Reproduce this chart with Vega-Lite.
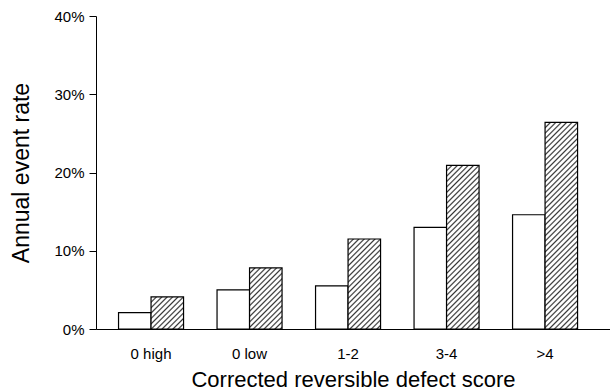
{
  "$schema": "https://vega.github.io/schema/vega-lite/v6.json",
  "width": 514,
  "height": 313,
  "autosize": {"type": "none"},
  "padding": {"left": 96, "top": 16, "right": 0, "bottom": 63},
  "background": "white",
  "config": {"view": {"stroke": null}, "font": "Liberation Sans"},
  "data": {
    "values": [
      {"score": "0 high", "series": "open", "rate": 2.1},
      {"score": "0 high", "series": "hatched", "rate": 4.1},
      {"score": "0 low", "series": "open", "rate": 5.0},
      {"score": "0 low", "series": "hatched", "rate": 7.8},
      {"score": "1-2", "series": "open", "rate": 5.5},
      {"score": "1-2", "series": "hatched", "rate": 11.5},
      {"score": "3-4", "series": "open", "rate": 13.0},
      {"score": "3-4", "series": "hatched", "rate": 20.9},
      {"score": ">4", "series": "open", "rate": 14.6},
      {"score": ">4", "series": "hatched", "rate": 26.4}
    ]
  },
  "encoding": {
    "x": {
      "field": "score", "type": "nominal",
      "scale": {"domain": ["0 high", "0 low", "1-2", "3-4", ">4"], "paddingInner": 0.34, "paddingOuter": 0.279, "align": 0.41},
      "axis": {"title": "Corrected reversible defect score", "labelAngle": 0, "ticks": false, "tickSize": 0, "domainColor": "#000", "domainWidth": 1.2, "labelFontSize": 15, "labelColor": "#000", "labelPadding": 17, "titleFontSize": 22, "titleFontWeight": "normal", "titleColor": "#000", "titlePadding": 8}
    },
    "xOffset": {"field": "series", "type": "nominal", "scale": {"domain": ["open", "hatched"], "paddingInner": 0, "paddingOuter": 0}},
    "y": {
      "field": "rate", "type": "quantitative",
      "scale": {"domain": [0, 40], "nice": false},
      "axis": {"title": "Annual event rate", "values": [0, 10, 20, 30, 40], "labelExpr": "datum.value + '%'", "grid": false, "tickSize": 7, "tickColor": "#000", "domainColor": "#000", "labelFontSize": 15, "labelPadding": 5, "labelColor": "#000", "titleFontSize": 23, "titleFontWeight": "normal", "titleColor": "#000", "titlePadding": 20}
    }
  },
  "layer": [
    {
      "transform": [{"filter": "datum.series == 'open'"}],
      "mark": {"type": "bar", "fill": "#fff", "stroke": "#000", "strokeWidth": 1.2}
    },
    {
      "transform": [{"filter": "datum.series == 'hatched' && datum.score == '0 high'"}],
      "mark": {"type": "bar", "stroke": "#000", "strokeWidth": 1.2, "fill": {"gradient": "linear", "x1": 0, "y1": 0, "x2": 4.2052, "y2": 4.1535, "stops": [
        {"offset":0,"color":"#333"},{"offset":0.006,"color":"#fff"},{"offset":0.014,"color":"#fff"},
        {"offset":0.02,"color":"#333"},{"offset":0.026,"color":"#fff"},{"offset":0.034,"color":"#fff"},
        {"offset":0.04,"color":"#333"},{"offset":0.046,"color":"#fff"},{"offset":0.054,"color":"#fff"},
        {"offset":0.06,"color":"#333"},{"offset":0.066,"color":"#fff"},{"offset":0.074,"color":"#fff"},
        {"offset":0.08,"color":"#333"},{"offset":0.086,"color":"#fff"},{"offset":0.094,"color":"#fff"},
        {"offset":0.1,"color":"#333"},{"offset":0.106,"color":"#fff"},{"offset":0.114,"color":"#fff"},
        {"offset":0.12,"color":"#333"},{"offset":0.126,"color":"#fff"},{"offset":0.134,"color":"#fff"},
        {"offset":0.14,"color":"#333"},{"offset":0.146,"color":"#fff"},{"offset":0.154,"color":"#fff"},
        {"offset":0.16,"color":"#333"},{"offset":0.166,"color":"#fff"},{"offset":0.174,"color":"#fff"},
        {"offset":0.18,"color":"#333"},{"offset":0.186,"color":"#fff"},{"offset":0.194,"color":"#fff"},
        {"offset":0.2,"color":"#333"},{"offset":0.206,"color":"#fff"},{"offset":0.214,"color":"#fff"},
        {"offset":0.22,"color":"#333"},{"offset":0.226,"color":"#fff"},{"offset":0.234,"color":"#fff"},
        {"offset":0.24,"color":"#333"},{"offset":0.246,"color":"#fff"},{"offset":0.254,"color":"#fff"}
      ]}}
    },
    {
      "transform": [{"filter": "datum.series == 'hatched' && datum.score == '0 low'"}],
      "mark": {"type": "bar", "stroke": "#000", "strokeWidth": 1.2, "fill": {"gradient": "linear", "x1": 0, "y1": 0, "x2": 1.8368, "y2": 3.4476, "stops": [
        {"offset":0,"color":"#333"},{"offset":0.006,"color":"#fff"},{"offset":0.014,"color":"#fff"},
        {"offset":0.02,"color":"#333"},{"offset":0.026,"color":"#fff"},{"offset":0.034,"color":"#fff"},
        {"offset":0.04,"color":"#333"},{"offset":0.046,"color":"#fff"},{"offset":0.054,"color":"#fff"},
        {"offset":0.06,"color":"#333"},{"offset":0.066,"color":"#fff"},{"offset":0.074,"color":"#fff"},
        {"offset":0.08,"color":"#333"},{"offset":0.086,"color":"#fff"},{"offset":0.094,"color":"#fff"},
        {"offset":0.1,"color":"#333"},{"offset":0.106,"color":"#fff"},{"offset":0.114,"color":"#fff"},
        {"offset":0.12,"color":"#333"},{"offset":0.126,"color":"#fff"},{"offset":0.134,"color":"#fff"},
        {"offset":0.14,"color":"#333"},{"offset":0.146,"color":"#fff"},{"offset":0.154,"color":"#fff"},
        {"offset":0.16,"color":"#333"},{"offset":0.166,"color":"#fff"},{"offset":0.174,"color":"#fff"},
        {"offset":0.18,"color":"#333"},{"offset":0.186,"color":"#fff"},{"offset":0.194,"color":"#fff"},
        {"offset":0.2,"color":"#333"},{"offset":0.206,"color":"#fff"},{"offset":0.214,"color":"#fff"},
        {"offset":0.22,"color":"#333"},{"offset":0.226,"color":"#fff"},{"offset":0.234,"color":"#fff"},
        {"offset":0.24,"color":"#333"},{"offset":0.246,"color":"#fff"},{"offset":0.254,"color":"#fff"},
        {"offset":0.26,"color":"#333"},{"offset":0.266,"color":"#fff"},{"offset":0.274,"color":"#fff"},
        {"offset":0.28,"color":"#333"},{"offset":0.286,"color":"#fff"},{"offset":0.294,"color":"#fff"},
        {"offset":0.3,"color":"#333"},{"offset":0.306,"color":"#fff"},{"offset":0.314,"color":"#fff"},
        {"offset":0.32,"color":"#333"},{"offset":0.326,"color":"#fff"},{"offset":0.334,"color":"#fff"},
        {"offset":0.34,"color":"#333"},{"offset":0.346,"color":"#fff"},{"offset":0.354,"color":"#fff"}
      ]}}
    },
    {
      "transform": [{"filter": "datum.series == 'hatched' && datum.score == '1-2'"}],
      "mark": {"type": "bar", "stroke": "#000", "strokeWidth": 1.2, "fill": {"gradient": "linear", "x1": 0, "y1": 0, "x2": 0.95836, "y2": 2.6539, "stops": [
        {"offset":0,"color":"#333"},{"offset":0.006,"color":"#fff"},{"offset":0.014,"color":"#fff"},
        {"offset":0.02,"color":"#333"},{"offset":0.026,"color":"#fff"},{"offset":0.034,"color":"#fff"},
        {"offset":0.04,"color":"#333"},{"offset":0.046,"color":"#fff"},{"offset":0.054,"color":"#fff"},
        {"offset":0.06,"color":"#333"},{"offset":0.066,"color":"#fff"},{"offset":0.074,"color":"#fff"},
        {"offset":0.08,"color":"#333"},{"offset":0.086,"color":"#fff"},{"offset":0.094,"color":"#fff"},
        {"offset":0.1,"color":"#333"},{"offset":0.106,"color":"#fff"},{"offset":0.114,"color":"#fff"},
        {"offset":0.12,"color":"#333"},{"offset":0.126,"color":"#fff"},{"offset":0.134,"color":"#fff"},
        {"offset":0.14,"color":"#333"},{"offset":0.146,"color":"#fff"},{"offset":0.154,"color":"#fff"},
        {"offset":0.16,"color":"#333"},{"offset":0.166,"color":"#fff"},{"offset":0.174,"color":"#fff"},
        {"offset":0.18,"color":"#333"},{"offset":0.186,"color":"#fff"},{"offset":0.194,"color":"#fff"},
        {"offset":0.2,"color":"#333"},{"offset":0.206,"color":"#fff"},{"offset":0.214,"color":"#fff"},
        {"offset":0.22,"color":"#333"},{"offset":0.226,"color":"#fff"},{"offset":0.234,"color":"#fff"},
        {"offset":0.24,"color":"#333"},{"offset":0.246,"color":"#fff"},{"offset":0.254,"color":"#fff"},
        {"offset":0.26,"color":"#333"},{"offset":0.266,"color":"#fff"},{"offset":0.274,"color":"#fff"},
        {"offset":0.28,"color":"#333"},{"offset":0.286,"color":"#fff"},{"offset":0.294,"color":"#fff"},
        {"offset":0.3,"color":"#333"},{"offset":0.306,"color":"#fff"},{"offset":0.314,"color":"#fff"},
        {"offset":0.32,"color":"#333"},{"offset":0.326,"color":"#fff"},{"offset":0.334,"color":"#fff"},
        {"offset":0.34,"color":"#333"},{"offset":0.346,"color":"#fff"},{"offset":0.354,"color":"#fff"},
        {"offset":0.36,"color":"#333"},{"offset":0.366,"color":"#fff"},{"offset":0.374,"color":"#fff"},
        {"offset":0.38,"color":"#333"},{"offset":0.386,"color":"#fff"},{"offset":0.394,"color":"#fff"},
        {"offset":0.4,"color":"#333"},{"offset":0.406,"color":"#fff"},{"offset":0.414,"color":"#fff"},
        {"offset":0.42,"color":"#333"},{"offset":0.426,"color":"#fff"},{"offset":0.434,"color":"#fff"},
        {"offset":0.44,"color":"#333"},{"offset":0.446,"color":"#fff"},{"offset":0.454,"color":"#fff"},
        {"offset":0.46,"color":"#333"},{"offset":0.466,"color":"#fff"},{"offset":0.474,"color":"#fff"}
      ]}}
    },
    {
      "transform": [{"filter": "datum.series == 'hatched' && datum.score == '3-4'"}],
      "mark": {"type": "bar", "stroke": "#000", "strokeWidth": 1.2, "fill": {"gradient": "linear", "x1": 0, "y1": 0, "x2": 0.31578, "y2": 1.5886, "stops": [
        {"offset":0,"color":"#333"},{"offset":0.006,"color":"#fff"},{"offset":0.014,"color":"#fff"},
        {"offset":0.02,"color":"#333"},{"offset":0.026,"color":"#fff"},{"offset":0.034,"color":"#fff"},
        {"offset":0.04,"color":"#333"},{"offset":0.046,"color":"#fff"},{"offset":0.054,"color":"#fff"},
        {"offset":0.06,"color":"#333"},{"offset":0.066,"color":"#fff"},{"offset":0.074,"color":"#fff"},
        {"offset":0.08,"color":"#333"},{"offset":0.086,"color":"#fff"},{"offset":0.094,"color":"#fff"},
        {"offset":0.1,"color":"#333"},{"offset":0.106,"color":"#fff"},{"offset":0.114,"color":"#fff"},
        {"offset":0.12,"color":"#333"},{"offset":0.126,"color":"#fff"},{"offset":0.134,"color":"#fff"},
        {"offset":0.14,"color":"#333"},{"offset":0.146,"color":"#fff"},{"offset":0.154,"color":"#fff"},
        {"offset":0.16,"color":"#333"},{"offset":0.166,"color":"#fff"},{"offset":0.174,"color":"#fff"},
        {"offset":0.18,"color":"#333"},{"offset":0.186,"color":"#fff"},{"offset":0.194,"color":"#fff"},
        {"offset":0.2,"color":"#333"},{"offset":0.206,"color":"#fff"},{"offset":0.214,"color":"#fff"},
        {"offset":0.22,"color":"#333"},{"offset":0.226,"color":"#fff"},{"offset":0.234,"color":"#fff"},
        {"offset":0.24,"color":"#333"},{"offset":0.246,"color":"#fff"},{"offset":0.254,"color":"#fff"},
        {"offset":0.26,"color":"#333"},{"offset":0.266,"color":"#fff"},{"offset":0.274,"color":"#fff"},
        {"offset":0.28,"color":"#333"},{"offset":0.286,"color":"#fff"},{"offset":0.294,"color":"#fff"},
        {"offset":0.3,"color":"#333"},{"offset":0.306,"color":"#fff"},{"offset":0.314,"color":"#fff"},
        {"offset":0.32,"color":"#333"},{"offset":0.326,"color":"#fff"},{"offset":0.334,"color":"#fff"},
        {"offset":0.34,"color":"#333"},{"offset":0.346,"color":"#fff"},{"offset":0.354,"color":"#fff"},
        {"offset":0.36,"color":"#333"},{"offset":0.366,"color":"#fff"},{"offset":0.374,"color":"#fff"},
        {"offset":0.38,"color":"#333"},{"offset":0.386,"color":"#fff"},{"offset":0.394,"color":"#fff"},
        {"offset":0.4,"color":"#333"},{"offset":0.406,"color":"#fff"},{"offset":0.414,"color":"#fff"},
        {"offset":0.42,"color":"#333"},{"offset":0.426,"color":"#fff"},{"offset":0.434,"color":"#fff"},
        {"offset":0.44,"color":"#333"},{"offset":0.446,"color":"#fff"},{"offset":0.454,"color":"#fff"},
        {"offset":0.46,"color":"#333"},{"offset":0.466,"color":"#fff"},{"offset":0.474,"color":"#fff"},
        {"offset":0.48,"color":"#333"},{"offset":0.486,"color":"#fff"},{"offset":0.494,"color":"#fff"},
        {"offset":0.5,"color":"#333"},{"offset":0.506,"color":"#fff"},{"offset":0.514,"color":"#fff"},
        {"offset":0.52,"color":"#333"},{"offset":0.526,"color":"#fff"},{"offset":0.534,"color":"#fff"},
        {"offset":0.54,"color":"#333"},{"offset":0.546,"color":"#fff"},{"offset":0.554,"color":"#fff"},
        {"offset":0.56,"color":"#333"},{"offset":0.566,"color":"#fff"},{"offset":0.574,"color":"#fff"},
        {"offset":0.58,"color":"#333"},{"offset":0.586,"color":"#fff"},{"offset":0.594,"color":"#fff"},
        {"offset":0.6,"color":"#333"},{"offset":0.606,"color":"#fff"},{"offset":0.614,"color":"#fff"},
        {"offset":0.62,"color":"#333"},{"offset":0.626,"color":"#fff"},{"offset":0.634,"color":"#fff"},
        {"offset":0.64,"color":"#333"},{"offset":0.646,"color":"#fff"},{"offset":0.654,"color":"#fff"},
        {"offset":0.66,"color":"#333"},{"offset":0.666,"color":"#fff"},{"offset":0.674,"color":"#fff"},
        {"offset":0.68,"color":"#333"},{"offset":0.686,"color":"#fff"},{"offset":0.694,"color":"#fff"},
        {"offset":0.7,"color":"#333"},{"offset":0.706,"color":"#fff"},{"offset":0.714,"color":"#fff"},
        {"offset":0.72,"color":"#333"},{"offset":0.726,"color":"#fff"},{"offset":0.734,"color":"#fff"}
      ]}}
    },
    {
      "transform": [{"filter": "datum.series == 'hatched' && datum.score == '>4'"}],
      "mark": {"type": "bar", "stroke": "#000", "strokeWidth": 1.2, "fill": {"gradient": "linear", "x1": 0, "y1": 0, "x2": 0.20062, "y2": 1.2753, "stops": [
        {"offset":0,"color":"#333"},{"offset":0.006,"color":"#fff"},{"offset":0.014,"color":"#fff"},
        {"offset":0.02,"color":"#333"},{"offset":0.026,"color":"#fff"},{"offset":0.034,"color":"#fff"},
        {"offset":0.04,"color":"#333"},{"offset":0.046,"color":"#fff"},{"offset":0.054,"color":"#fff"},
        {"offset":0.06,"color":"#333"},{"offset":0.066,"color":"#fff"},{"offset":0.074,"color":"#fff"},
        {"offset":0.08,"color":"#333"},{"offset":0.086,"color":"#fff"},{"offset":0.094,"color":"#fff"},
        {"offset":0.1,"color":"#333"},{"offset":0.106,"color":"#fff"},{"offset":0.114,"color":"#fff"},
        {"offset":0.12,"color":"#333"},{"offset":0.126,"color":"#fff"},{"offset":0.134,"color":"#fff"},
        {"offset":0.14,"color":"#333"},{"offset":0.146,"color":"#fff"},{"offset":0.154,"color":"#fff"},
        {"offset":0.16,"color":"#333"},{"offset":0.166,"color":"#fff"},{"offset":0.174,"color":"#fff"},
        {"offset":0.18,"color":"#333"},{"offset":0.186,"color":"#fff"},{"offset":0.194,"color":"#fff"},
        {"offset":0.2,"color":"#333"},{"offset":0.206,"color":"#fff"},{"offset":0.214,"color":"#fff"},
        {"offset":0.22,"color":"#333"},{"offset":0.226,"color":"#fff"},{"offset":0.234,"color":"#fff"},
        {"offset":0.24,"color":"#333"},{"offset":0.246,"color":"#fff"},{"offset":0.254,"color":"#fff"},
        {"offset":0.26,"color":"#333"},{"offset":0.266,"color":"#fff"},{"offset":0.274,"color":"#fff"},
        {"offset":0.28,"color":"#333"},{"offset":0.286,"color":"#fff"},{"offset":0.294,"color":"#fff"},
        {"offset":0.3,"color":"#333"},{"offset":0.306,"color":"#fff"},{"offset":0.314,"color":"#fff"},
        {"offset":0.32,"color":"#333"},{"offset":0.326,"color":"#fff"},{"offset":0.334,"color":"#fff"},
        {"offset":0.34,"color":"#333"},{"offset":0.346,"color":"#fff"},{"offset":0.354,"color":"#fff"},
        {"offset":0.36,"color":"#333"},{"offset":0.366,"color":"#fff"},{"offset":0.374,"color":"#fff"},
        {"offset":0.38,"color":"#333"},{"offset":0.386,"color":"#fff"},{"offset":0.394,"color":"#fff"},
        {"offset":0.4,"color":"#333"},{"offset":0.406,"color":"#fff"},{"offset":0.414,"color":"#fff"},
        {"offset":0.42,"color":"#333"},{"offset":0.426,"color":"#fff"},{"offset":0.434,"color":"#fff"},
        {"offset":0.44,"color":"#333"},{"offset":0.446,"color":"#fff"},{"offset":0.454,"color":"#fff"},
        {"offset":0.46,"color":"#333"},{"offset":0.466,"color":"#fff"},{"offset":0.474,"color":"#fff"},
        {"offset":0.48,"color":"#333"},{"offset":0.486,"color":"#fff"},{"offset":0.494,"color":"#fff"},
        {"offset":0.5,"color":"#333"},{"offset":0.506,"color":"#fff"},{"offset":0.514,"color":"#fff"},
        {"offset":0.52,"color":"#333"},{"offset":0.526,"color":"#fff"},{"offset":0.534,"color":"#fff"},
        {"offset":0.54,"color":"#333"},{"offset":0.546,"color":"#fff"},{"offset":0.554,"color":"#fff"},
        {"offset":0.56,"color":"#333"},{"offset":0.566,"color":"#fff"},{"offset":0.574,"color":"#fff"},
        {"offset":0.58,"color":"#333"},{"offset":0.586,"color":"#fff"},{"offset":0.594,"color":"#fff"},
        {"offset":0.6,"color":"#333"},{"offset":0.606,"color":"#fff"},{"offset":0.614,"color":"#fff"},
        {"offset":0.62,"color":"#333"},{"offset":0.626,"color":"#fff"},{"offset":0.634,"color":"#fff"},
        {"offset":0.64,"color":"#333"},{"offset":0.646,"color":"#fff"},{"offset":0.654,"color":"#fff"},
        {"offset":0.66,"color":"#333"},{"offset":0.666,"color":"#fff"},{"offset":0.674,"color":"#fff"},
        {"offset":0.68,"color":"#333"},{"offset":0.686,"color":"#fff"},{"offset":0.694,"color":"#fff"},
        {"offset":0.7,"color":"#333"},{"offset":0.706,"color":"#fff"},{"offset":0.714,"color":"#fff"},
        {"offset":0.72,"color":"#333"},{"offset":0.726,"color":"#fff"},{"offset":0.734,"color":"#fff"},
        {"offset":0.74,"color":"#333"},{"offset":0.746,"color":"#fff"},{"offset":0.754,"color":"#fff"},
        {"offset":0.76,"color":"#333"},{"offset":0.766,"color":"#fff"},{"offset":0.774,"color":"#fff"},
        {"offset":0.78,"color":"#333"},{"offset":0.786,"color":"#fff"},{"offset":0.794,"color":"#fff"},
        {"offset":0.8,"color":"#333"},{"offset":0.806,"color":"#fff"},{"offset":0.814,"color":"#fff"},
        {"offset":0.82,"color":"#333"},{"offset":0.826,"color":"#fff"},{"offset":0.834,"color":"#fff"},
        {"offset":0.84,"color":"#333"},{"offset":0.846,"color":"#fff"},{"offset":0.854,"color":"#fff"},
        {"offset":0.86,"color":"#333"},{"offset":0.866,"color":"#fff"},{"offset":0.874,"color":"#fff"},
        {"offset":0.88,"color":"#333"},{"offset":0.886,"color":"#fff"},{"offset":0.894,"color":"#fff"}
      ]}}
    }
  ]
}
